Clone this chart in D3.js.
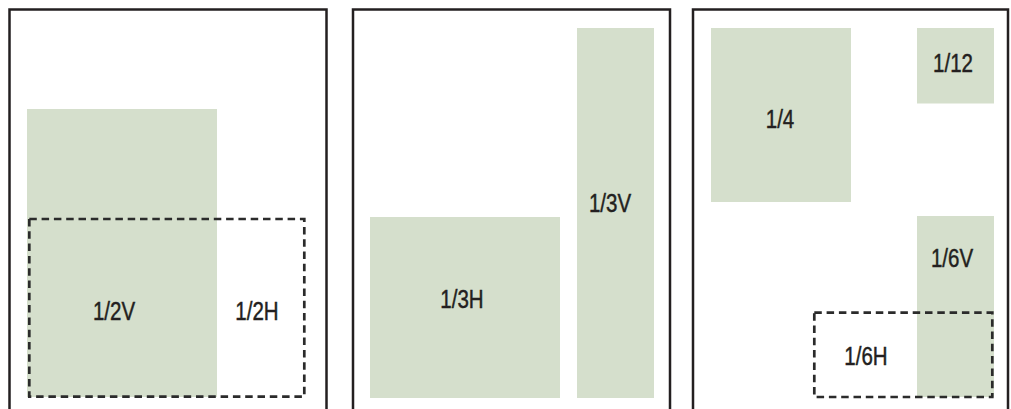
<!DOCTYPE html>
<html>
<head>
<meta charset="utf-8">
<script src="https://cdn.jsdelivr.net/npm/d3@7"></script>
<style>
  html, body { margin: 0; padding: 0; background: #fff; overflow: hidden; }
  svg { display: block; }
  .label { font-family: "Liberation Sans", Arial, sans-serif; font-size: 25px; fill: #231f20; stroke: #231f20; stroke-width: 0.45px; }
</style>
</head>
<body>
<div id="chart"></div>
<script>
// ad placements, measured in page units (top-left corner of each page = 0,0)
const pageNames = ["half", "third", "quarter"];
const adLabels = ["1/2V", "1/2H", "1/3H", "1/3V", "1/4", "1/12", "1/6V", "1/6H"];
const adPage = [0, 0, 1, 1, 2, 2, 2, 2];
const adKind = ["fill", "outline", "fill", "fill", "fill", "fill", "fill", "outline"];
const adLeft = [17.5, 19.8, 17, 224, 18, 224, 224, 121.3];
const adRight = [207.5, 294.8, 207, 301, 158, 301, 301, 299.3];
const adTop = [99.5, 209.5, 207.5, 18.5, 18.5, 18.5, 206.5, 303.2];
const adBottom = [387.5, 387.2, 388.5, 388.5, 192.5, 94, 387.5, 387.5];
const labelX = [104.5, 247.5, 109, 257, 87, 260, 259, 173];
const labelY = [310.5, 310.5, 298.5, 202.5, 118.5, 62.5, 257.5, 355.5];

const width = 1011, height = 409;
const pageLeft = [9.5, 353, 693];
const pageRight = [326.5, 670, 1008];
const pageTop = 9.5;

const svg = d3.select("#chart").append("svg")
    .attr("width", width)
    .attr("height", height);

const y = d3.scaleLinear().domain([0, 400]).range([pageTop, pageTop + 400]);
const xScales = pageNames.map((p, i) =>
    d3.scaleLinear().domain([0, pageRight[i] - pageLeft[i]]).range([pageLeft[i], pageRight[i]]));

const ads = adLabels.map((label, i) => ({
    label, page: adPage[i], kind: adKind[i],
    x0: adLeft[i], x1: adRight[i], y0: adTop[i], y1: adBottom[i],
    lx: labelX[i], ly: labelY[i]
}));

// shaded ad blocks
svg.selectAll("rect.ad")
    .data(ads.filter(d => d.kind === "fill"))
    .enter()
    .append("rect")
    .attr("class", "ad")
    .attr("x", d => xScales[d.page](d.x0))
    .attr("y", d => y(d.y0))
    .attr("width", d => xScales[d.page](d.x1) - xScales[d.page](d.x0))
    .attr("height", d => y(d.y1) - y(d.y0))
    .attr("fill", "#d5dfcc");

// alternative placements drawn as dashed outlines
svg.selectAll("rect.alt")
    .data(ads.filter(d => d.kind === "outline"))
    .enter()
    .append("rect")
    .attr("class", "alt")
    .attr("x", d => xScales[d.page](d.x0))
    .attr("y", d => y(d.y0))
    .attr("width", d => xScales[d.page](d.x1) - xScales[d.page](d.x0))
    .attr("height", d => y(d.y1) - y(d.y0))
    .attr("fill", "none")
    .attr("stroke", "#2b2b2b")
    .attr("stroke-width", 2.7)
    .attr("stroke-dasharray", "7.5,4.8");

// page frames (they run off the bottom edge)
svg.selectAll("rect.page")
    .data(pageNames)
    .enter()
    .append("rect")
    .attr("class", "page")
    .attr("x", (d, i) => pageLeft[i])
    .attr("y", pageTop)
    .attr("width", (d, i) => pageRight[i] - pageLeft[i])
    .attr("height", 440)
    .attr("fill", "none")
    .attr("stroke", "#231f20")
    .attr("stroke-width", 2.5);

// labels, squeezed horizontally to get the condensed look
svg.selectAll("text.label")
    .data(ads)
    .enter()
    .append("text")
    .attr("class", "label")
    .attr("transform", d => `translate(${xScales[d.page](d.lx)},${y(d.ly)}) scale(0.82,1)`)
    .attr("text-anchor", "middle")
    .text(d => d.label);
</script>
</body>
</html>
